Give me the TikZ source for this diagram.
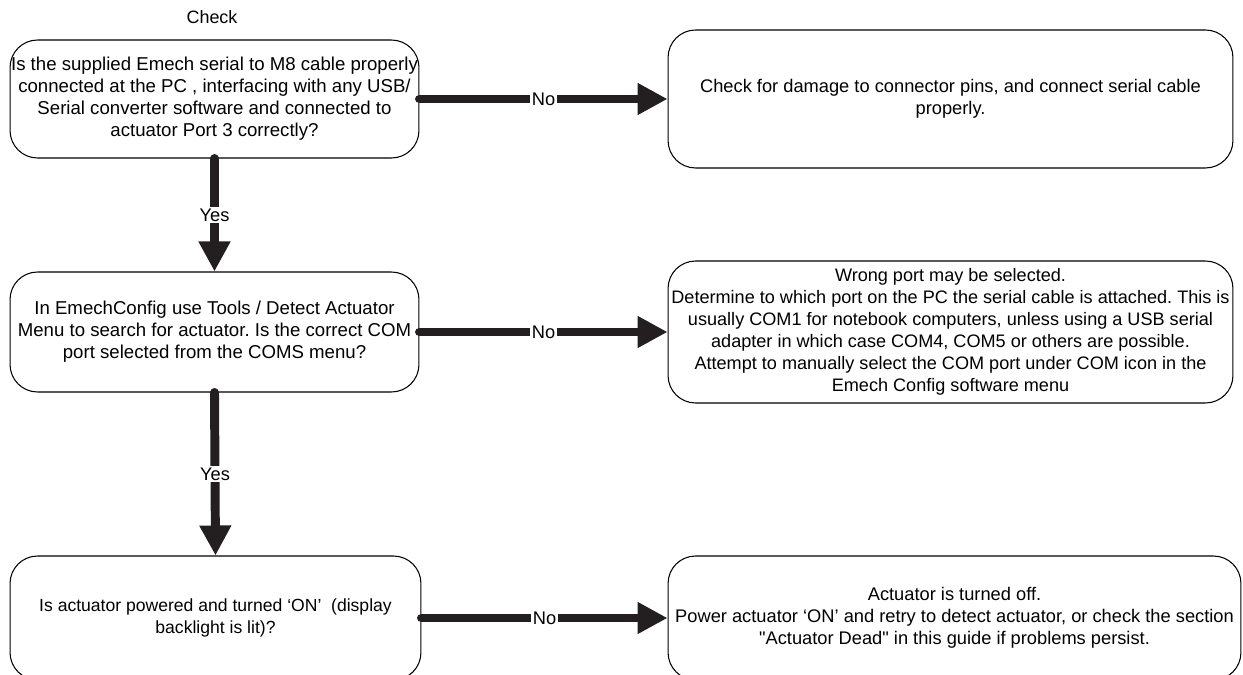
\documentclass[tikz,border=0pt]{standalone}
\usepackage{fontspec}
\setmainfont{Liberation Sans}
\usetikzlibrary{arrows.meta}
\definecolor{inkblack}{HTML}{231F20}
\frenchspacing

\begin{document}
\begin{tikzpicture}[x=0.02cm, y=-0.02cm]
\tikzstyle{box} = [rectangle, draw, line width=0.6pt, rounded corners=0.55cm, align=center, inner xsep=0.5pt, font=\fontsize{10.4}{12.5}\selectfont]
\tikzstyle{arrow} = [line width=5.1pt, line cap=round, -{Triangle[length=0.6cm, width=0.6cm]}, draw=inkblack]
\tikzstyle{lbl} = [fill=white, inner sep=1pt, font=\fontsize{10.4}{12}\selectfont]

\useasboundingbox (0,0) rectangle (1243,675);
\clip (0,0) rectangle (1243,675);

\node[font=\fontsize{10.2}{12}\selectfont] (title) at (212,17) {Check};

\node[box, minimum width=8.18cm, minimum height=2.36cm, font=\fontsize{10.6}{12.5}\selectfont] (q1) at (214.5,99) {Is the supplied Emech serial to M8 cable properly\\connected at the PC , interfacing with any USB/\\Serial converter software and connected to\\actuator Port 3 correctly?};
\node[box, minimum width=11.3cm, minimum height=2.76cm] (a1) at (950.5,99) {Check for damage to connector pins, and connect serial cable\\properly.};

\node[box, minimum width=8.18cm, minimum height=2.4cm, font=\fontsize{10.6}{12.5}\selectfont] (q2) at (214.5,332) {In EmechConfig use Tools / Detect Actuator\\Menu to search for actuator. Is the correct COM\\port selected from the COMS menu?};
\node[box, minimum width=11.3cm, minimum height=2.84cm, font=\fontsize{10.3}{12.5}\selectfont] (a2) at (950.5,332) {Wrong port may be selected.\\Determine to which port on the PC the serial cable is attached. This is\\usually COM1 for notebook computers, unless using a USB serial\\adapter in which case COM4, COM5 or others are possible.\\Attempt to manually select the COM port under COM icon in the\\Emech Config software menu};

\node[box, minimum width=8.22cm, minimum height=2.48cm, font=\fontsize{10}{12.5}\selectfont] (q3) at (215.5,618) {Is actuator powered and turned ‘ON’\ \ (display\\backlight is lit)?};
\node[box, minimum width=11.46cm, minimum height=2.48cm] (a3) at (954.5,618) {Actuator is turned off.\\Power actuator ‘ON’ and retry to detect actuator, or check the section\\\textquotedbl Actuator Dead\textquotedbl{} in this guide if problems persist.};

\draw[arrow] (q1.east) -- node[lbl] {No} (a1.west);
\draw[arrow] (q2.east) -- node[lbl] {No} (a2.west);
\draw[arrow] (q3.east) -- node[lbl] {No} (a3.west);
\draw[arrow] (q1.south) -- node[lbl] {Yes} (q2.north);
\draw[arrow] (q2.south) -- node[lbl] {Yes} (q3.north);
\end{tikzpicture}
\end{document}
